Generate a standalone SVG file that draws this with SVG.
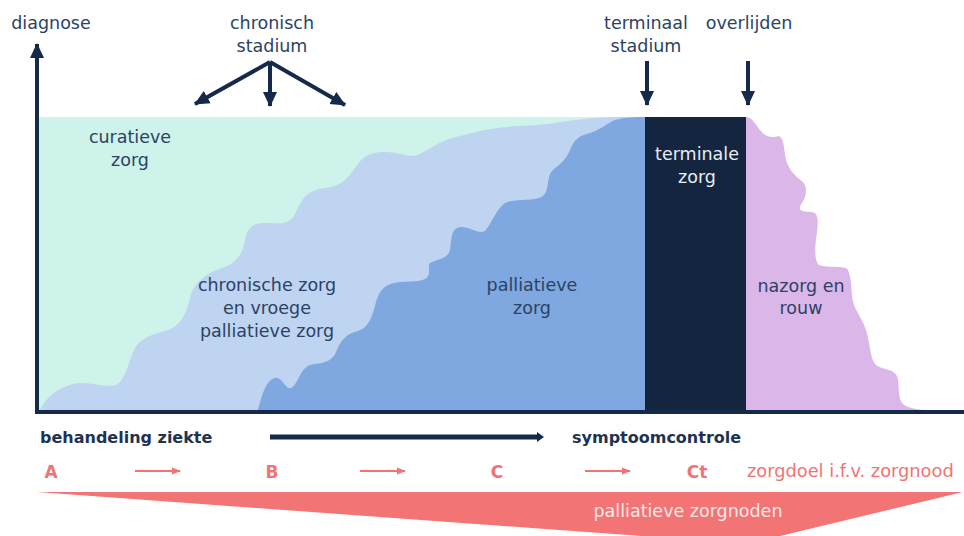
<svg xmlns="http://www.w3.org/2000/svg" width="964" height="536" viewBox="0 0 964 536">
<defs>
<style>
.t{font-family:"DejaVu Sans","Liberation Sans",sans-serif;font-size:17.5px;fill:#2c4265;text-anchor:middle}
.w{fill:#e9edf3}
.b{font-family:"DejaVu Sans","Liberation Sans",sans-serif;font-size:16px;font-weight:bold;fill:#1d3354}
.p{font-family:"DejaVu Sans","Liberation Sans",sans-serif;font-size:17px;font-weight:bold;fill:#f07474;text-anchor:middle}
.pl{font-family:"DejaVu Sans","Liberation Sans",sans-serif;font-size:17.8px;fill:#f07474}
.nav{stroke:#15294a;stroke-width:4;fill:none}
.pk{stroke:#f07474;stroke-width:2;fill:none}
</style>
<marker id="ah" markerUnits="userSpaceOnUse" markerWidth="16" markerHeight="16" viewBox="0 0 16 16" refX="14" refY="8" orient="auto">
<path d="M0,1 L15,8 L0,15 Z" fill="#15294a"/>
</marker>
<marker id="ap" markerUnits="userSpaceOnUse" markerWidth="9" markerHeight="8" viewBox="0 0 9 8" refX="8" refY="4" orient="auto">
<path d="M0,0.5 L9,4 L0,7.5 Z" fill="#f07474"/>
</marker>
</defs>
<rect width="964" height="536" fill="#ffffff"/>

<g id="curatieve">
<rect x="39" y="117" width="606" height="293" fill="#cdf3ea"/>
<text class="t" x="130" y="143">curatieve</text>
<text class="t" x="130" y="166">zorg</text>
</g>

<g id="chronische">
<path d="M40,410 C45,398 58,388 73,384 C90,380 108,390 118,384 C125,378 128,365 132,355 C136,342 145,336 165,331 C180,327 186,315 190,298 C193,284 205,273 222,268 C236,263 242,256 245,240 C247,228 252,223 265,223 C280,223 290,226 296,212 C302,198 308,190 325,188 C340,187 348,178 355,168 C362,158 368,152 385,152 C400,152 408,158 418,155 C432,148 440,140 460,136 C480,130 500,127 520,126 C545,125 560,122 575,120 C590,118 605,117 620,117 L645,117 L645,410 Z" fill="#bfd4f1"/>
<text class="t" x="267" y="291">chronische zorg</text>
<text class="t" x="267" y="314">en vroege</text>
<text class="t" x="267" y="337">palliatieve zorg</text>
</g>

<g id="palliatieve">
<path d="M258,410 C262,395 266,380 275,378 C282,376 285,390 291,388 C297,386 300,370 308,366 C315,362 330,366 336,352 C341,340 346,334 358,331 C368,328 372,318 376,302 C380,290 384,284 400,282 C415,281 425,282 428,276 C431,270 426,264 432,262 C440,259 448,258 450,250 C452,240 450,229 460,227 C470,226 480,236 486,230 C492,222 496,210 505,203 C515,198 535,202 543,196 C550,190 546,176 553,170 C560,164 566,160 570,150 C574,140 578,136 590,133 C600,130 606,124 615,120 C625,117 635,117 645,117 L645,410 Z" fill="#7ea8df"/>
<text class="t" x="532" y="291">palliatieve</text>
<text class="t" x="532" y="314">zorg</text>
</g>

<g id="terminale">
<rect x="645" y="117" width="101" height="293" fill="#13253f"/>
<text class="t w" x="697" y="160">terminale</text>
<text class="t w" x="697" y="183">zorg</text>
</g>

<g id="nazorg">
<path d="M746,117 C752,117 756,125 760,130 C765,137 772,138 779,136 C784,138 784,150 786,160 C789,170 795,176 803,182 C808,188 806,197 802,203 C797,210 800,212 812,212 C819,213 818,222 817,232 C815,245 814,258 818,264 C822,268 840,266 846,268 C852,272 851,292 853,302 C856,312 862,318 866,330 C870,342 870,358 875,364 C880,370 893,368 897,376 C900,384 897,398 903,404 C908,408 918,410 930,410 L746,410 Z" fill="#dab7e8"/>
<text class="t" x="801" y="292">nazorg en</text>
<text class="t" x="801" y="314">rouw</text>
</g>

<g id="labels-top">
<text class="t" x="51" y="29">diagnose</text>
<text class="t" x="272" y="29">chronisch</text>
<text class="t" x="272" y="52">stadium</text>
<text class="t" x="646" y="29">terminaal</text>
<text class="t" x="646" y="52">stadium</text>
<text class="t" x="749" y="29">overlijden</text>
</g>

<g id="connectors">
<line class="nav" x1="37" y1="414" x2="37" y2="44" marker-end="url(#ah)"/>
<line class="nav" x1="35" y1="412" x2="964" y2="412"/>
<line class="nav" x1="270" y1="62" x2="195" y2="104" marker-end="url(#ah)"/>
<line class="nav" x1="270" y1="62" x2="270" y2="106" marker-end="url(#ah)"/>
<line class="nav" x1="270" y1="62" x2="345" y2="105" marker-end="url(#ah)"/>
<line class="nav" x1="647" y1="61" x2="647" y2="105" marker-end="url(#ah)"/>
<line class="nav" x1="748" y1="61" x2="748" y2="105" marker-end="url(#ah)"/>
<path d="M270,434.5 L537,434.5 L537,432 L544,437 L537,442 L537,439.5 L270,439.5 Z" fill="#15294a"/>
<line class="pk" x1="135" y1="471" x2="180" y2="471" marker-end="url(#ap)"/>
<line class="pk" x1="360" y1="471" x2="405" y2="471" marker-end="url(#ap)"/>
<line class="pk" x1="585" y1="471" x2="630" y2="471" marker-end="url(#ap)"/>
</g>

<g id="labels-bottom">
<text class="b" x="40" y="443">behandeling ziekte</text>
<text class="b" x="572" y="443">symptoomcontrole</text>
<text class="p" x="51" y="478">A</text>
<text class="p" x="272" y="478">B</text>
<text class="p" x="497" y="478">C</text>
<text class="p" x="697" y="478">Ct</text>
<text class="pl" x="747" y="477">zorgdoel i.f.v. zorgnood</text>
</g>

<g id="zorgnoden">
<polygon points="37,492 963,492 780,536 642,536" fill="#f27474"/>
<text class="t" x="688" y="517" style="fill:#fbe8e8">palliatieve zorgnoden</text>
</g>
</svg>
